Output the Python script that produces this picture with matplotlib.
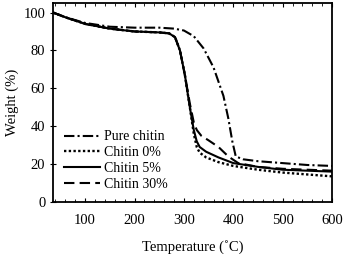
import matplotlib
matplotlib.use("Agg")
import matplotlib.pyplot as plt
from matplotlib.ticker import MultipleLocator

plt.rcParams['font.family'] = ['Liberation Serif', 'DejaVu Serif']

# TGA curves
t_pure = [35, 60, 100, 150, 200, 250, 280, 300, 320, 340, 360, 380, 390, 398, 405, 420, 450, 500, 550, 600]
w_pure = [100, 97.5, 94.5, 92.5, 92, 92, 91.5, 90.5, 87.5, 81, 71, 56, 44, 32, 24, 22.5, 21.5, 20.5, 19.5, 19]

t_c0 = [35, 60, 100, 150, 200, 250, 270, 282, 292, 302, 312, 320, 326, 332, 345, 370, 400, 450, 500, 550, 600]
w_c0 = [100, 97.5, 94, 91.5, 90, 89.5, 89, 87, 80, 67, 50, 36, 29, 26, 23.5, 21, 19, 17, 15.5, 14.5, 13.5]

t_c5 = [35, 60, 100, 150, 200, 250, 270, 282, 292, 302, 312, 320, 326, 332, 345, 370, 400, 450, 500, 550, 600]
w_c5 = [100, 97.5, 94, 91.5, 90, 89.5, 89, 87, 80, 67, 50, 38, 32, 29, 26.5, 23.5, 20.5, 18.5, 17, 16.5, 16]

t_c30 = [35, 60, 100, 150, 200, 250, 270, 282, 292, 302, 312, 320, 326, 335, 350, 370, 390, 410, 450, 500, 550, 600]
w_c30 = [100, 97.5, 94, 91.5, 90, 89.5, 89, 87, 80, 67, 52, 42, 38, 35, 32.5, 29, 24, 20.5, 18.5, 17.5, 17, 16.5]

fig = plt.figure(figsize=(3.45, 2.54), dpi=100)
ax = fig.add_axes([0.1536, 0.205, 0.809, 0.783])

ax.plot(t_pure, w_pure, color='black', lw=1.5, ls=(0, (5, 1.5, 1, 1.5)), label='Pure chitin')
ax.plot(t_c0, w_c0, color='black', lw=1.7, ls=(0, (1, 1)), label='Chitin 0%')
ax.plot(t_c5, w_c5, color='black', lw=1.5, ls='-', label='Chitin 5%')
ax.plot(t_c30, w_c30, color='black', lw=1.5, ls=(0, (5, 2.5)), label='Chitin 30%')

ax.set_xlim(35, 600)
ax.set_ylim(0, 105)
ax.xaxis.set_major_locator(MultipleLocator(100))
ax.xaxis.set_minor_locator(MultipleLocator(20))
ax.yaxis.set_major_locator(MultipleLocator(20))
ax.tick_params(axis='x', which='both', direction='in', top=True, labelsize=10.5, pad=9)
ax.tick_params(axis='x', which='major', length=3)
ax.tick_params(axis='x', which='minor', length=2.5)
ax.tick_params(axis='y', direction='inout', length=5, labelsize=10.5, pad=3)
for s in ax.spines.values():
    s.set_linewidth(1.3)

ax.set_xlabel('Temperature (˚C)', fontsize=10.5, labelpad=9)
ax.set_ylabel('Weight (%)', fontsize=10.5, labelpad=3)

ax.legend(loc='lower left', bbox_to_anchor=(0.0, 0.0), frameon=False, fontsize=10,
          handlelength=2.6, handletextpad=0.3, labelspacing=0.2, borderpad=0.3)

fig.savefig('out.png', dpi=100)
